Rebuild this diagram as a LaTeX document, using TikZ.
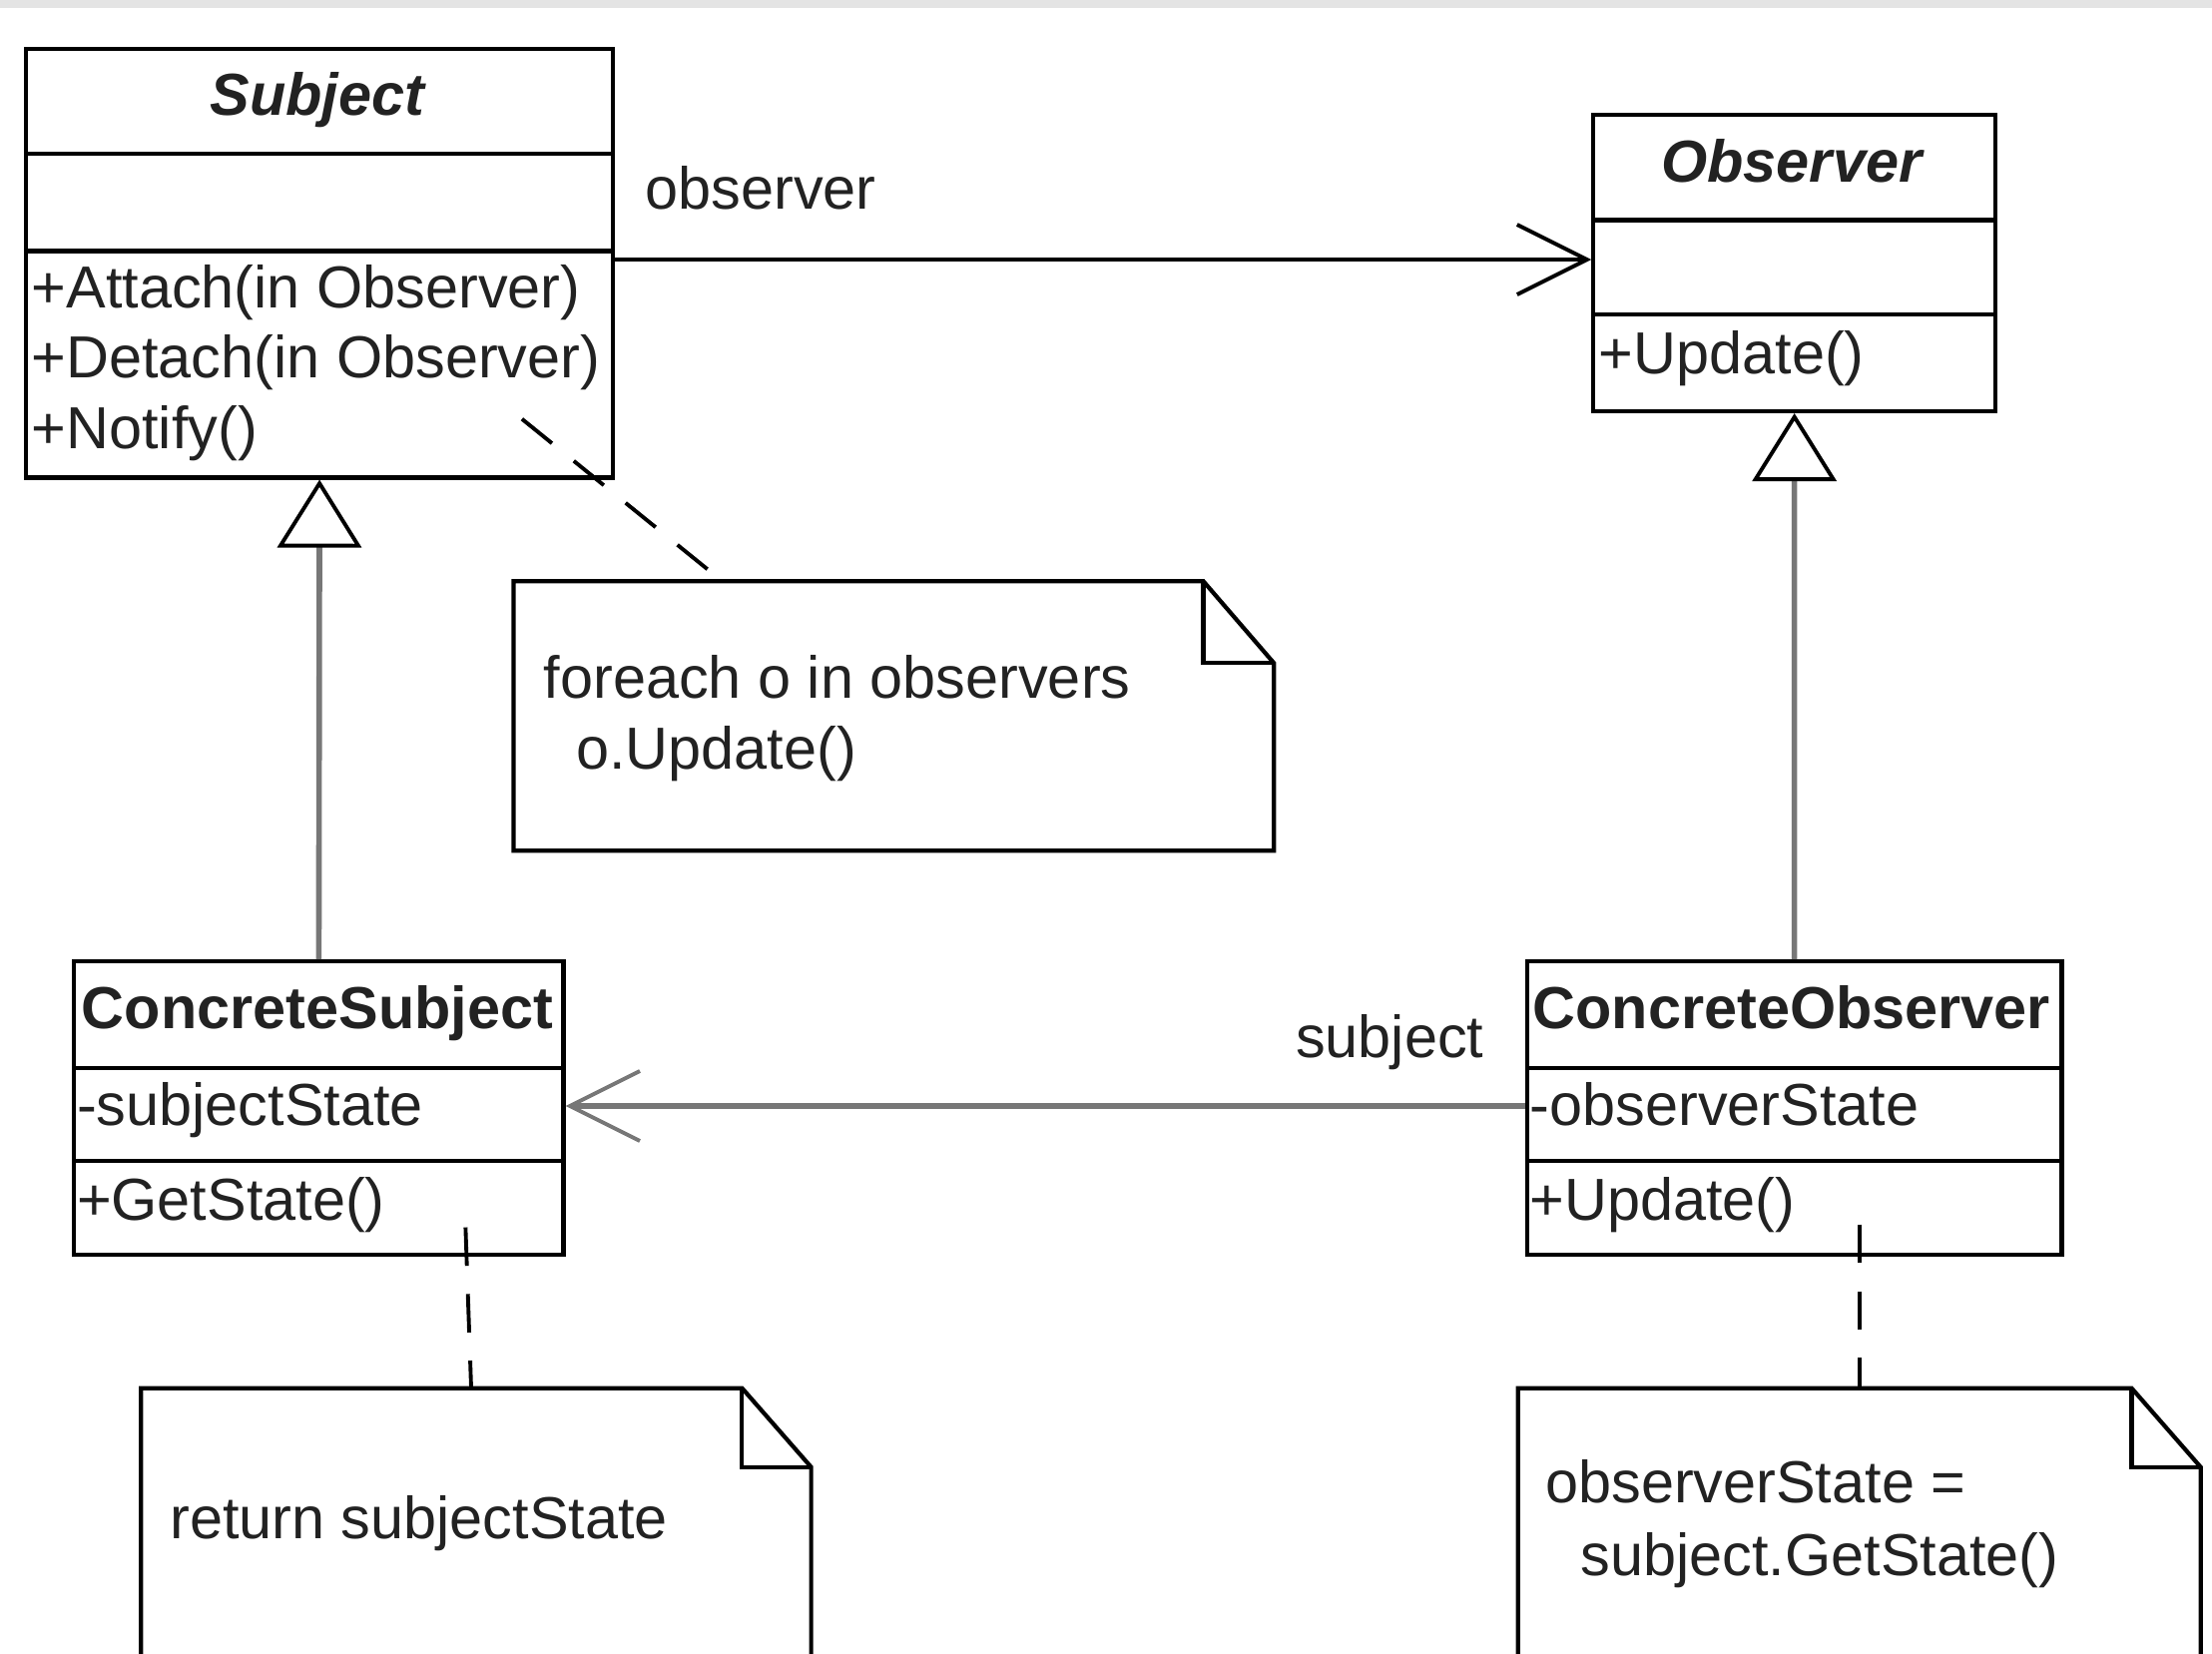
\documentclass[tikz,border=0pt]{standalone}
\usepackage{fontspec}
\setmainfont{Liberation Sans}
\usetikzlibrary{arrows.meta}
\definecolor{txt}{HTML}{222222}
\definecolor{conn}{HTML}{777777}
\definecolor{band}{HTML}{E4E4E4}
\begin{document}
\begin{tikzpicture}[x=0.01413cm, y=-0.01413cm,
  box/.style={draw=black, line width=1.2pt, inner sep=0, anchor=north west},
  divl/.style={draw=black, line width=1.2pt},
  fnt/.style={font=\fontsize{16.9}{20}\selectfont},
  lbl/.style={fnt, text=txt, inner sep=0, anchor=base west},
  title/.style={fnt, text=txt, inner sep=0, anchor=base, font=\fontsize{16.9}{20}\selectfont\bfseries},
  ititle/.style={title, font=\fontsize{16.9}{20}\selectfont\bfseries\itshape},
  notebox/.style={draw=black, line width=1.2pt, line join=miter},
  assoc/.style={line width=1.2pt, -{Straight Barb[length=0.7cm, width=0.7cm, line width=1.1pt]}},
  gen/.style={draw=conn, line width=1.6pt, -{Triangle[length=0.68cm, width=0.84cm, fill=white, color=black, line width=1.1pt]}},
  anchorline/.style={draw=black, line width=1.1pt, dash pattern=on 11pt off 8pt}
]
\useasboundingbox (0,0) rectangle (1568,1172);
\fill[band] (0,0) rectangle (1568,6);

% ---- Subject ----
\node[box, minimum width=5.878cm, minimum height=4.296cm] (subj) at (17,33) {};
\draw[divl] (subj.west |- 0,109) -- (subj.east |- 0,109);
\draw[divl] (subj.west |- 0,178) -- (subj.east |- 0,178);
\node[ititle] (subjname) at (225,82) {Subject};
\node[lbl] (subjm1) at (22,218) {+Attach(in Observer)};
\node[lbl] (subjm2) at (22,268) {+Detach(in Observer)};
\node[lbl] (subjm3) at (22,318) {+Notify()};

% ---- Observer ----
\node[box, minimum width=4.027cm, minimum height=2.967cm] (obs) at (1128,80) {};
\draw[divl] (obs.west |- 0,156) -- (obs.east |- 0,156);
\draw[divl] (obs.west |- 0,223) -- (obs.east |- 0,223);
\node[ititle] (obsname) at (1270,129) {Observer};
\node[lbl] (obsm1) at (1133,265) {+Update()};

% ---- ConcreteSubject ----
\node[box, minimum width=4.903cm, minimum height=2.939cm] (csubj) at (51,680) {};
\draw[divl] (csubj.west |- 0,757) -- (csubj.east |- 0,757);
\draw[divl] (csubj.west |- 0,823) -- (csubj.east |- 0,823);
\node[title] (csubjname) at (225,729) {ConcreteSubject};
\node[lbl] (csubja1) at (54,798) {-subjectState};
\node[lbl] (csubjm1) at (54,865) {+GetState()};

% ---- ConcreteObserver ----
\node[box, minimum width=5.355cm, minimum height=2.939cm] (cobs) at (1081,680) {};
\draw[divl] (cobs.west |- 0,757) -- (cobs.east |- 0,757);
\draw[divl] (cobs.west |- 0,823) -- (cobs.east |- 0,823);
\node[title] (cobsname) at (1270,729) {ConcreteObserver};
\node[lbl] (cobsa1) at (1084,798) {-observerState};
\node[lbl] (cobsm1) at (1084,865) {+Update()};

% ---- Notes ----
\coordinate (n1nw) at (364,412);
\coordinate (n1se) at (903,603);
\draw[notebox] (n1nw) -- (853,412) -- (903,470) -- (n1se) -- (364,603) -- cycle;
\draw[notebox] (853,412) -- (853,470) -- (903,470);
\node[lbl] (n1t1) at (385,495) {foreach o in observers};
\node[lbl] (n1t2) at (408,545) {o.Update()};

\coordinate (n2nw) at (100,984);
\draw[notebox] (100,1185) -- (n2nw) -- (526,984) -- (575,1040) -- (575,1185);
\draw[notebox] (526,984) -- (526,1040) -- (575,1040);
\node[lbl] (n2t1) at (120,1091) {return subjectState};

\coordinate (n3nw) at (1076,984);
\draw[notebox] (1076,1185) -- (n3nw) -- (1511,984) -- (1560,1040) -- (1560,1185);
\draw[notebox] (1511,984) -- (1511,1040) -- (1560,1040);
\node[lbl] (n3t1) at (1095,1065) {observerState =};
\node[lbl] (n3t2) at (1120,1117) {subject.GetState()};

% ---- Note anchors ----
\coordinate (a1s) at (370,297);
\coordinate (a1e) at (512,412);
\draw[anchorline] (a1s) -- (a1e);
\coordinate (a2s) at (330,870);
\coordinate (a2e) at (334,984);
\draw[anchorline] (a2s) -- (a2e);
\coordinate (a3s) at (1318,868);
\coordinate (a3e) at (1318,984);
\draw[anchorline] (a3s) -- (a3e);

% ---- Generalizations ----
\draw[gen] (csubj.north) -- (subj.south);
\draw[gen] (cobs.north) -- (obs.south);

% ---- Associations ----
\draw[assoc, draw=black] (subj.east |- 0,184) -- (obs.west |- 0,184);
\node[lbl] (lobs) at (457,148) {observer};
\draw[assoc, draw=conn, line width=1.6pt] (cobs.west |- 0,784) -- (csubj.east |- 0,784);
\node[lbl] (lsubj) at (918,750) {subject};
\end{tikzpicture}
\end{document}
